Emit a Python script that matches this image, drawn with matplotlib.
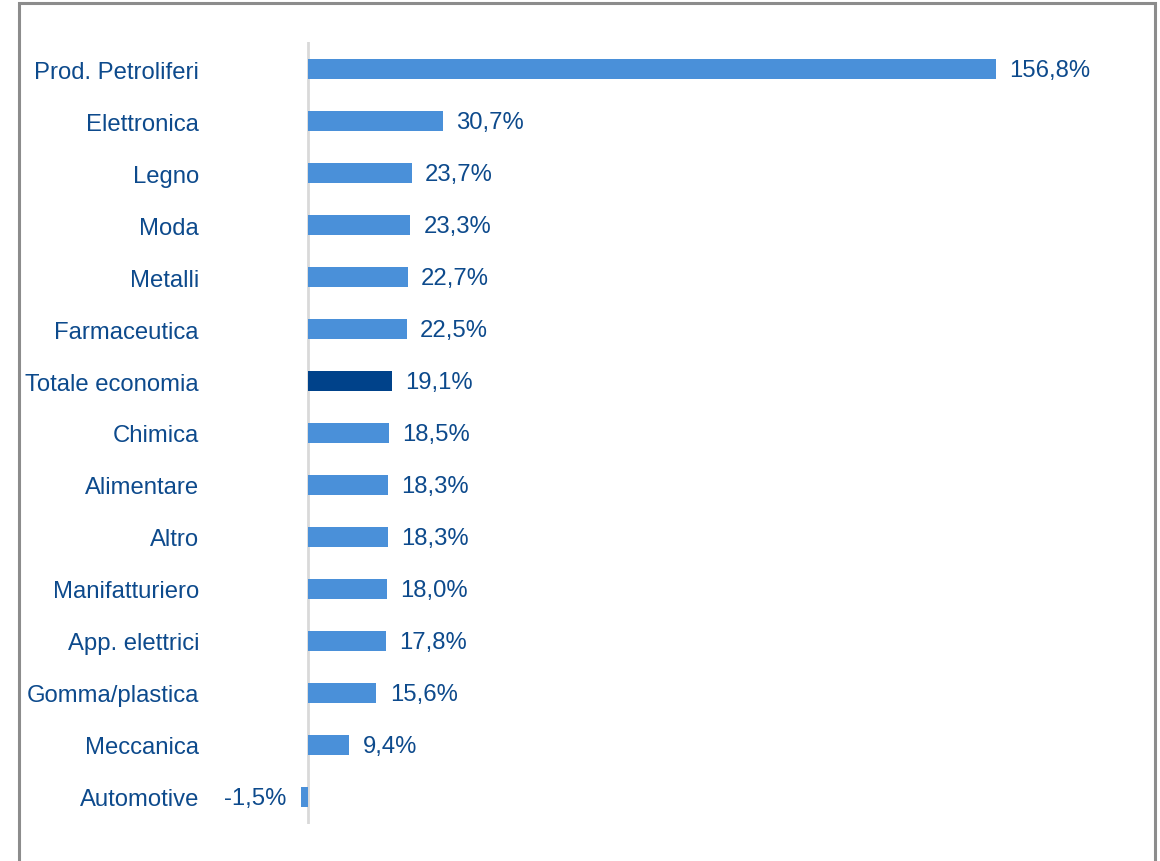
import matplotlib.pyplot as plt
from matplotlib.patches import Rectangle

plt.switch_backend('Agg')
plt.rcParams['font.family'] = ['Liberation Sans', 'DejaVu Sans']

# Data (values in %)
sectors = ['Prod. Petroliferi', 'Elettronica', 'Legno', 'Moda', 'Metalli',
           'Farmaceutica', 'Totale economia', 'Chimica', 'Alimentare', 'Altro',
           'Manifatturiero', 'App. elettrici', 'Gomma/plastica', 'Meccanica',
           'Automotive']
values = [156.8, 30.7, 23.7, 23.3, 22.7, 22.5, 19.1, 18.5, 18.3, 18.3,
          18.0, 17.8, 15.6, 9.4, -1.5]
highlight = 'Totale economia'

light_blue = '#4a90d9'
dark_blue = '#00428a'
text_col = '#0d4a8c'
fs = 17.2

W, H = 1160, 862
fig = plt.figure(figsize=(W / 100, H / 100), dpi=100)

# axes placed so that 0 sits at ~308px and 156.8 at ~996px
x0, x1 = -5, 170
scale = (996 - 308) / 156.8
left_px = 308 + x0 * scale
right_px = 308 + x1 * scale
ax = fig.add_axes([left_px / W, 1 - 825 / H, (right_px - left_px) / W, (825 - 43) / H])

ypos = list(range(len(sectors)))
colors = [dark_blue if s == highlight else light_blue for s in sectors]
ax.barh(ypos, values, height=0.37, color=colors, zorder=2)

ax.set_xlim(x0, x1)
ax.set_ylim(len(sectors) - 1 + 0.52, -0.52)
ax.axvline(0, color='#d9d9d9', lw=2, zorder=1)

for y, v in zip(ypos, values):
    lab = f'{v:.1f}%'.replace('.', ',')
    if v >= 0:
        ax.annotate(lab, (v, y), xytext=(9.5, -1), textcoords='offset points',
                    ha='left', va='center', fontsize=fs, color=text_col)
    else:
        ax.annotate(lab, (v, y), xytext=(-11, -1), textcoords='offset points',
                    ha='right', va='center', fontsize=fs, color=text_col)

ax.set_yticks(ypos)
ax.set_yticklabels(sectors, fontsize=fs, color=text_col)
ax.tick_params(axis='y', length=0, pad=(left_px - 199) * 0.72)
ax.set_xticks([])
for sp in ax.spines.values():
    sp.set_visible(False)

# grey frame around the chart (no bottom edge visible)
fig.add_artist(Rectangle((19 / W, -0.05), (1155 - 19) / W, 1.05 - 4 / H,
                         transform=fig.transFigure, fill=False,
                         edgecolor='#8c8c8c', lw=2.2))

fig.savefig('out.png', dpi=100)
plt.close()
